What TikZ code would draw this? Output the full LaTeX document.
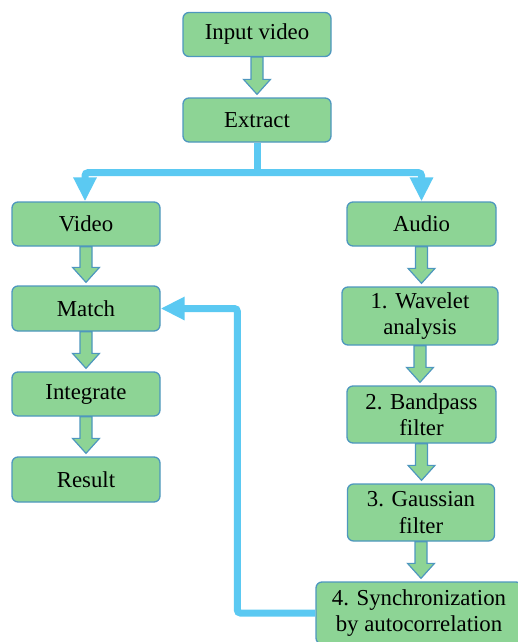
\documentclass[tikz,border=0pt]{standalone}
\usepackage{fontspec}
\setmainfont{Liberation Serif}
\newfontfamily\tnrfont{Liberation Serif}
\usetikzlibrary{arrows.meta,calc}
\definecolor{boxfill}{HTML}{8DD495}
\definecolor{boxline}{HTML}{4E97BE}
\definecolor{flowblue}{HTML}{5BC9F2}
\newcommand\harrow[2]{%
  \coordinate (ht) at ($(#1.south |- #2.north)+(0,3)$);
  \filldraw[boxfill, draw=boxline, line width=1.2pt, line join=miter]
    ($(#1.south)+(-6,0)$) -- ($(ht)+(-6,15)$) -- ($(ht)+(-13.5,15)$) --
    (ht) -- ($(ht)+(13.5,15)$) -- ($(ht)+(6,15)$) -- ($(#1.south)+(6,0)$) -- cycle;
}
\begin{document}
\begin{tikzpicture}[x=1pt,y=1pt,
  box/.style={draw=boxline, fill=boxfill, line width=1.3pt, rounded corners=6pt,
    inner sep=0pt, align=center, font=\tnrfont\fontsize{22.8}{26.5}\selectfont,
    minimum width=148pt, minimum height=44pt},
  flow/.style={draw=flowblue, line width=7pt, rounded corners=3pt},
  tip/.style={-{Triangle[length=24pt,width=22pt]}}
]
\useasboundingbox (0,0) rectangle (518,-642);
\begin{scope}
\clip (0,0) rectangle (518,-642);
\node[box] (inp) at (257,-34.5) {Input video};
\node[box] (ext) at (257,-120) {Extract};
\node[box] (vid) at (86,-224) {Video};
\node[box, minimum height=45pt] (mat) at (86,-308.5) {Match};
\node[box] (int) at (86,-394) {Integrate};
\node[box, minimum height=45pt] (res) at (86,-479.5) {Result};
\node[box, minimum width=149pt] (aud) at (421.5,-224) {Audio};
\node[box, minimum width=156pt, minimum height=58pt] (wav) at (420,-316) {1. Wavelet\\analysis};
\node[box, minimum width=149pt, minimum height=57pt] (ban) at (421.5,-414.5) {2. Bandpass\\filter};
\node[box, minimum width=147pt, minimum height=57pt] (gau) at (421,-512.5) {3. Gaussian\\filter};
\node[box, minimum width=206pt, minimum height=62pt] (syn) at (419,-613) {4. Synchronization\\by autocorrelation};

\harrow{inp}{ext}
\harrow{vid}{mat}
\harrow{mat}{int}
\harrow{int}{res}
\harrow{aud}{wav}
\harrow{wav}{ban}
\harrow{ban}{gau}
\harrow{gau}{syn}

\coordinate (split) at ($(ext.south)+(0,-30)$);
\draw[flow] (ext.south) -- (split);
\draw[flow, tip] (split) -| ($(vid.north)+(-1,0)$);
\draw[flow, tip] (split) -| (aud.north);
\coordinate (fb) at ($(syn.west)+(-78,0)$);
\draw[flow, tip] (syn.west) -- (fb) |- (mat.east);
\end{scope}
\end{tikzpicture}
\end{document}
